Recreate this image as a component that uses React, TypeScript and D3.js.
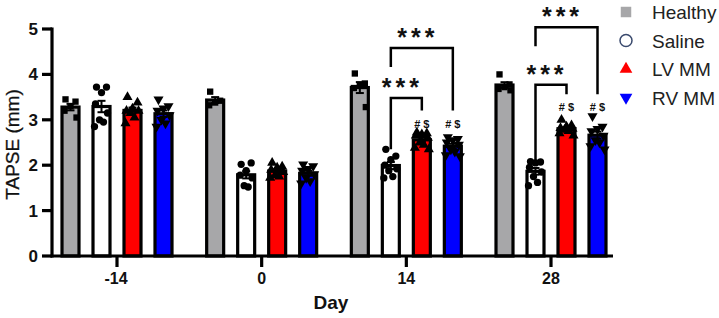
import React from 'react';
import * as d3 from 'd3';

const days = ['-14', '0', '14', '28'];
const groups = ['Healthy', 'Saline', 'LV MM', 'RV MM'];
const yTicks = [0, 1, 2, 3, 4, 5];

// individual TAPSE values (mm), one list per day
const healthy = [
  [3.45, 3.4, 3.3, 3.2, 3.05],
  [3.62, 3.42, 3.38, 3.32],
  [4.02, 3.8, 3.75, 3.7, 3.28],
  [4.0, 3.78, 3.72, 3.68, 3.65],
];
const saline = [
  [3.72, 3.72, 3.6, 3.35, 3.15, 3.0, 2.95, 2.85],
  [2.02, 2.05, 1.88, 1.78, 1.72, 1.55, 1.52],
  [2.35, 2.2, 2.12, 2.0, 1.92, 1.88, 1.75, 1.72],
  [2.08, 2.07, 2.05, 1.95, 1.85, 1.75, 1.62, 1.55],
];
const lvmm = [
  [3.5, 3.38, 3.25, 3.2, 3.2, 3.15, 3.05, 2.92],
  [2.05, 1.97, 1.95, 1.9, 1.85, 1.78, 1.75, 1.72],
  [2.72, 2.7, 2.68, 2.65, 2.6, 2.5, 2.45, 2.38, 2.35],
  [3.0, 2.88, 2.85, 2.82, 2.8, 2.78, 2.75, 2.7, 2.65],
];
const rvmm = [
  [3.45, 3.3, 3.25, 3.2, 3.1, 3.0, 2.92, 2.85],
  [2.02, 1.98, 1.92, 1.88, 1.8, 1.72, 1.65, 1.6],
  [2.62, 2.58, 2.55, 2.5, 2.45, 2.35, 2.3, 2.22, 2.2],
  [3.08, 2.85, 2.8, 2.75, 2.65, 2.55, 2.5, 2.42, 2.35],
];
const seriesValues = [healthy, saline, lvmm, rvmm];

// significance brackets (level in mm)
const comparisons = [
  { day: '14', from: 'Saline', to: 'LV MM', level: 3.48, outer: false },
  { day: '14', from: 'Saline', to: 'RV MM', level: 4.58, outer: true },
  { day: '28', from: 'Saline', to: 'LV MM', level: 3.77, outer: false },
  { day: '28', from: 'Saline', to: 'RV MM', level: 5.04, outer: true },
];
const hashDays = ['14', '28'];
const hashGroups = ['LV MM', 'RV MM'];

const fills = ['#a7a7a9', '#ffffff', '#ff0000', '#0000ff'];
const legendMarkColors = ['#a7a7a9', '#3a4a6e', '#ff0000', '#0000ff'];
const symbols = [d3.symbolSquare, d3.symbolCircle, d3.symbolTriangle, d3.symbolTriangle];
const symbolSizes = [40, 42, 44, 44];
const jitter = [-5, 5, 0, -6, 6, -2, 2, -7, 7];

const FONT = 'Arial, "Liberation Sans", sans-serif';

export default function App() {
  const W = 719, H = 318;
  const y = d3.scaleLinear().domain([0, 5]).range([256, 29]);
  const x = d3.scalePoint().domain(days).range([117, 551]);
  const inner = d3.scaleBand().domain(groups).range([-62, 62]).paddingInner(0.355).paddingOuter(0.1775);
  const bw = inner.bandwidth();
  const cx = (day: string, g: string) => (x(day) as number) + (inner(g) as number) + bw / 2;

  const bars: any[] = [];
  groups.forEach((g, gi) => {
    days.forEach((day, di) => {
      const vals = seriesValues[gi][di];
      const mean = d3.mean(vals) as number;
      const sem = (d3.deviation(vals) as number) / Math.sqrt(vals.length);
      bars.push({ g, gi, day, di, vals, mean, sem });
    });
  });

  const symPath = (gi: number) => d3.symbol().type(symbols[gi]).size(symbolSizes[gi])() as string;

  const maxOf = (day: string, g: string) => d3.max(seriesValues[groups.indexOf(g)][days.indexOf(day)]) as number;
  const hashY = (day: string) => y(d3.max(hashGroups, (g) => maxOf(day, g)) as number) - 9;

  return (
    <svg width={W} height={H} style={{ position: 'absolute', left: 0, top: 0, background: '#fff' }} fontFamily={FONT}>
      {/* bars */}
      {bars.map((b) => (
        <rect key={`bar-${b.g}-${b.day}`} x={cx(b.day, b.g) - (bw - 3) / 2} y={y(b.mean)} width={bw - 3}
          height={y(0) - y(b.mean)} fill={fills[b.gi]} stroke="#000" strokeWidth={3.2} />
      ))}
      {/* error bars */}
      {bars.map((b) => {
        const c = cx(b.day, b.g);
        return (
          <g key={`err-${b.g}-${b.day}`} stroke="#000" strokeWidth={2}>
            <line x1={c} x2={c} y1={y(b.mean - b.sem)} y2={y(b.mean + b.sem)} />
            <line x1={c - 4} x2={c + 4} y1={y(b.mean + b.sem)} y2={y(b.mean + b.sem)} />
            <line x1={c - 4} x2={c + 4} y1={y(b.mean - b.sem)} y2={y(b.mean - b.sem)} />
          </g>
        );
      })}
      {/* points */}
      {bars.map((b) =>
        b.vals.map((v: number, i: number) => (
          <path key={`pt-${b.g}-${b.day}-${i}`} d={symPath(b.gi)}
            transform={`translate(${cx(b.day, b.g) + jitter[i % jitter.length]},${y(v)})${b.gi === 3 ? ' rotate(180)' : ''}`}
            fill="#000" />
        ))
      )}
      {/* y axis */}
      <line x1={52} x2={52} y1={y(5) - 1.5} y2={y(0) + 1.5} stroke="#000" strokeWidth={3.2} />
      {yTicks.map((t) => (
        <g key={`yt-${t}`}>
          <line x1={42} x2={52} y1={y(t)} y2={y(t)} stroke="#000" strokeWidth={3.2} />
          <text x={38} y={y(t) + 6} textAnchor="end" fontSize={17} fontWeight="bold" fill="#111">{t}</text>
        </g>
      ))}
      <text transform={`translate(19,${(y(0) + y(5)) / 2 + 2}) rotate(-90)`} textAnchor="middle" fontSize={19} fill="#111" stroke="#111" strokeWidth={0.3}>TAPSE (mm)</text>
      {/* x axis */}
      <line x1={50.5} x2={613} y1={y(0)} y2={y(0)} stroke="#000" strokeWidth={3.2} />
      {days.map((d) => (
        <g key={`xt-${d}`}>
          <line x1={x(d)} x2={x(d)} y1={y(0)} y2={y(0) + 11} stroke="#000" strokeWidth={3.2} />
          <text x={(x(d) as number) + (d.startsWith('-') ? -1 : 0)} y={284} textAnchor="middle" fontSize={16} fontWeight="bold" fill="#111">{d}</text>
        </g>
      ))}
      <text x={331} y={309} textAnchor="middle" fontSize={19} fontWeight="bold" fill="#111">Day</text>
      {/* significance brackets */}
      {comparisons.map((c, i) => {
        const x1 = cx(c.day, c.from), x2 = cx(c.day, c.to);
        const yl = y(c.level);
        const leftBottom = c.outer ? yl + 19 : y(maxOf(c.day, c.from));
        const rightBottom = hashY(c.day) - 13;
        return (
          <g key={`cmp-${i}`}>
            <path d={`M${x1},${leftBottom}V${yl}H${x2}V${rightBottom}`} fill="none" stroke="#000" strokeWidth={2.5} />
            <text x={(x1 + x2) / 2 - 4} y={yl - 16 + 14} textAnchor="middle" fontSize={25} fontWeight="bold" letterSpacing={4} fill="#111">***</text>
          </g>
        );
      })}
      {/* # $ marks */}
      {hashDays.map((d) => hashGroups.map((g) => (
        <text key={`hash-${d}-${g}`} x={cx(d, g)} y={hashY(d) + 4} textAnchor="middle" fontSize={11} fontWeight="bold" fill="#111"># $</text>
      )))}
      {/* legend */}
      {groups.map((g, gi) => {
        const ly = 12 + gi * 28.5;
        const mark = gi === 1
          ? <circle cx={626} cy={ly} r={6} fill="#fff" stroke={legendMarkColors[gi]} strokeWidth={1.5} />
          : <path d={d3.symbol().type(symbols[gi]).size(gi === 0 ? 110 : 70)() as string}
              transform={`translate(626,${ly})${gi === 3 ? ' rotate(180)' : ''}`} fill={legendMarkColors[gi]} />;
        return (
          <g key={`leg-${g}`}>
            {mark}
            <text x={652} y={ly + 7} fontSize={19} fill="#222">{g}</text>
          </g>
        );
      })}
    </svg>
  );
}
